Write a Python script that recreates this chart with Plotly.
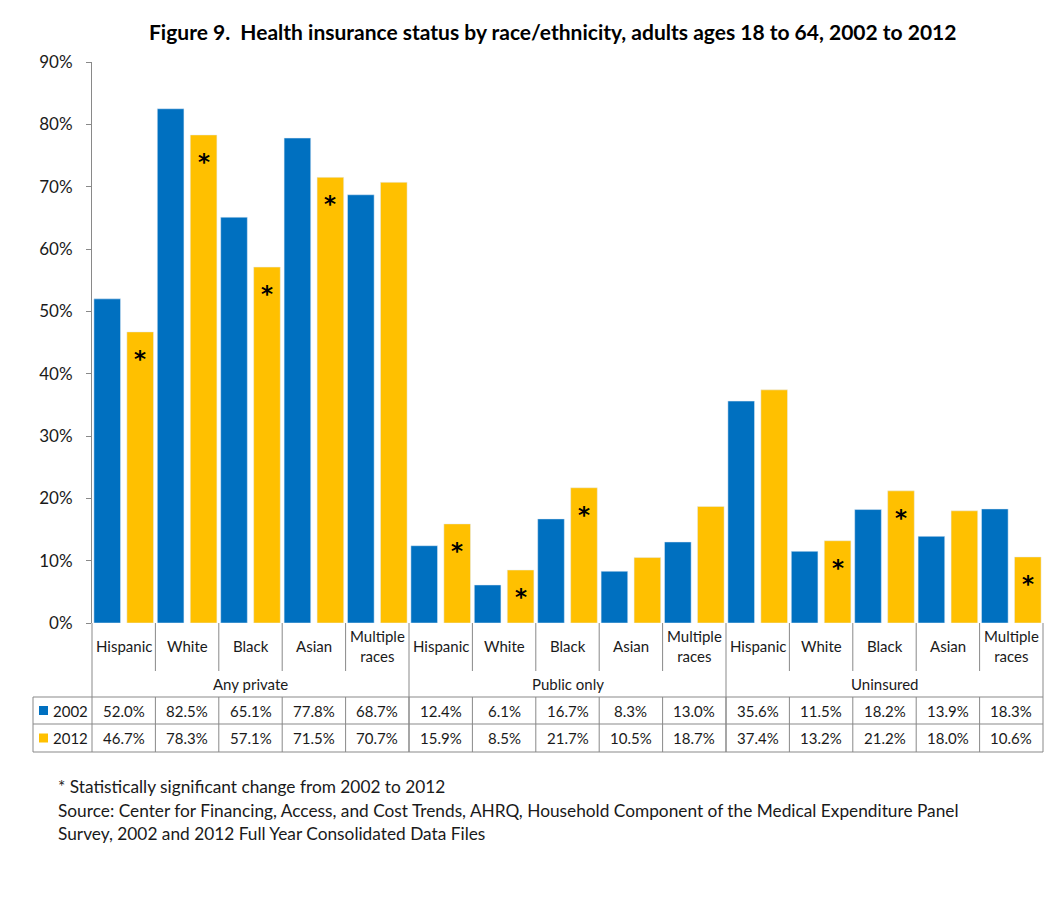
import plotly.graph_objects as go

groups = ["Any private", "Public only", "Uninsured"]
races = ["Hispanic", "White", "Black", "Asian", "Multiple<br>races"]
years = ["2002", "2012"]
v2002 = [52.0, 82.5, 65.1, 77.8, 68.7, 12.4, 6.1, 16.7, 8.3, 13.0, 35.6, 11.5, 18.2, 13.9, 18.3]
v2012 = [46.7, 78.3, 57.1, 71.5, 70.7, 15.9, 8.5, 21.7, 10.5, 18.7, 37.4, 13.2, 21.2, 18.0, 10.6]
sig2012 = [1, 1, 1, 1, 0, 1, 1, 1, 0, 0, 0, 1, 1, 0, 1]
colors = ["#0070C0", "#FFC000"]
FONT = "Lato, 'Open Sans', sans-serif"
GRID = "#898989"
TXT = "#1a1a1a"

n = len(v2002)
xs = list(range(n))

fig = go.Figure()
fig.add_trace(go.Bar(x=xs, y=v2002, name=years[0], marker_color=colors[0],
                     width=0.42, offset=-0.47, showlegend=False))
fig.add_trace(go.Bar(x=xs, y=v2012, name=years[1], marker_color=colors[1],
                     width=0.42, offset=0.05, showlegend=False))

W, H = 1052, 897
ml, mr, mt, mb = 92, 9, 62, 274
ph = H - mt - mb
pw = W - ml - mr

def py(p):  # pixel y -> paper
    return (H - mb - p) / ph

def px(p):  # pixel x -> paper
    return (p - ml) / pw

shapes = []
ann = []
line = dict(color=GRID, width=1)

# significance asterisks
for i in xs:
    if sig2012[i]:
        ann.append(dict(x=i + 0.26, y=v2012[i], xref="x", yref="y", text="<b>*</b>",
                        showarrow=False, yshift=-27, xanchor="center", yanchor="middle",
                        font=dict(size=23, color="#000000", family="DejaVu Sans")))

# category separators (label row)
for i in range(1, n):
    if i % 5 != 0:
        shapes.append(dict(type="line", xref="paper", yref="paper", x0=i / n, x1=i / n,
                           y0=0, y1=py(671), line=line))
# group separators
for g in range(len(groups) + 1):
    shapes.append(dict(type="line", xref="paper", yref="paper", x0=g / 3, x1=g / 3,
                       y0=0, y1=py(752), line=line))
# table horizontal lines
for yy in [697, 724, 752]:
    shapes.append(dict(type="line", xref="paper", yref="paper", x0=px(33), x1=1,
                       y0=py(yy), y1=py(yy), line=line))
# table vertical lines
shapes.append(dict(type="line", xref="paper", yref="paper", x0=px(33), x1=px(33),
                   y0=py(697), y1=py(752), line=line))
for i in range(1, n):
    shapes.append(dict(type="line", xref="paper", yref="paper", x0=i / n, x1=i / n,
                       y0=py(697), y1=py(752), line=line))

# category labels
for i in xs:
    ann.append(dict(x=(i + 0.5) / n, y=py(646), xref="paper", yref="paper",
                    text=races[i % 5], showarrow=False, xanchor="center", yanchor="middle",
                    font=dict(size=15, color=TXT, family=FONT)))
for g, name in enumerate(groups):
    ann.append(dict(x=(g + 0.5) / 3, y=py(684), xref="paper", yref="paper",
                    text=name, showarrow=False, xanchor="center", yanchor="middle",
                    font=dict(size=15, color=TXT, family=FONT)))

# table rows
rows = [(v2002, 710.5), (v2012, 738)]
for r, (vals, yc) in enumerate(rows):
    shapes.append(dict(type="rect", xref="paper", yref="paper", x0=px(39), x1=px(48),
                       y0=py(yc - 4.5), y1=py(yc + 4.5), fillcolor=colors[r],
                       line=dict(width=0)))
    ann.append(dict(x=px(51), y=py(yc), xref="paper", yref="paper", text=years[r],
                    showarrow=False, xanchor="left", yanchor="middle",
                    font=dict(size=15, color=TXT, family=FONT)))
    for i in xs:
        ann.append(dict(x=(i + 0.5) / n, y=py(yc), xref="paper", yref="paper",
                        text=f"{vals[i]:.1f}%", showarrow=False, xanchor="center",
                        yanchor="middle", font=dict(size=15, color=TXT, family=FONT)))

# title
ann.append(dict(x=px(552), y=py(31), xref="paper", yref="paper",
                text="<b>Figure 9.  Health insurance status by race/ethnicity, adults ages 18 to 64, 2002 to 2012</b>",
                showarrow=False, xanchor="center", yanchor="middle",
                font=dict(size=21, color="#000000", family=FONT)))

# footnotes
notes = ["* Statistically significant change from 2002 to 2012",
         "Source: Center for Financing, Access, and Cost Trends, AHRQ, Household Component of the Medical Expenditure Panel",
         "Survey, 2002 and 2012 Full Year Consolidated Data Files"]
for k, t in enumerate(notes):
    ann.append(dict(x=px(56), y=py(786 + 24 * k), xref="paper", yref="paper", text=t,
                    showarrow=False, xanchor="left", yanchor="middle",
                    font=dict(size=17.3, color=TXT, family=FONT)))

fig.update_layout(
    width=W, height=H,
    margin=dict(l=ml, r=mr, t=mt, b=mb, autoexpand=False),
    paper_bgcolor="white", plot_bgcolor="white",
    barmode="overlay",
    font=dict(family=FONT, color=TXT),
    xaxis=dict(range=[-0.5, n - 0.5], showticklabels=False, ticks="", showgrid=False,
               zeroline=False, showline=False, fixedrange=True),
    yaxis=dict(range=[0, 90], dtick=10, ticksuffix="%", showgrid=False, zeroline=False,
               showline=True, linecolor=GRID, linewidth=1, ticks="outside", ticklen=5,
               tickcolor=GRID, ticklabelstandoff=10,
               tickfont=dict(size=17, color=TXT, family=FONT)),
    shapes=shapes, annotations=ann,
)
fig.write_html("out.html", config={"displayModeBar": False},
               post_script="document.body.style.margin='0';document.body.style.overflow='hidden';")
